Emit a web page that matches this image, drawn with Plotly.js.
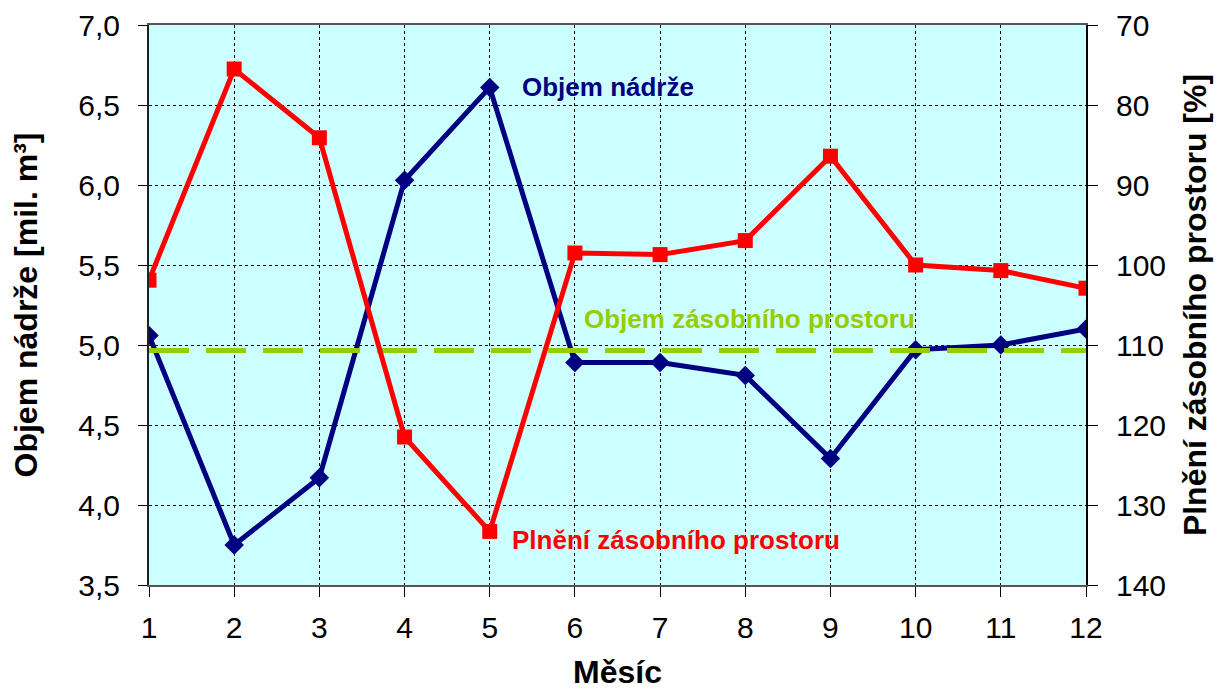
<!DOCTYPE html>
<html>
<head>
<meta charset="utf-8">
<script src="https://cdn.plot.ly/plotly-3.0.1.min.js"></script>
<style>html,body{margin:0;padding:0;background:#fff}#chart{width:1220px;height:690px}</style>
</head>
<body>
<div id="chart"></div>
<script>
const months = [1,2,3,4,5,6,7,8,9,10,11,12];
const volume = [5.06,3.75,4.17,6.03,6.61,4.89,4.89,4.81,4.29,4.97,5.00,5.10];
const filling = [101.9,75.5,84.1,121.5,133.3,98.5,98.7,96.95,86.4,100.0,100.7,102.9];
const reserveVolume = 4.965;
const reserveLine = months.map(() => reserveVolume);
const yTicks = [3.5,4.0,4.5,5.0,5.5,6.0,6.5,7.0];
const y2Ticks = [70,80,90,100,110,120,130,140];

const FONT = 'Liberation Sans, Arial, sans-serif';

const traces = [
  {x: months, y: volume, type: 'scatter', mode: 'lines+markers', yaxis: 'y',
   line: {color: '#000080', width: 5}, marker: {symbol: 'diamond', size: 15, color: '#000080'}},
  {x: months, y: filling, type: 'scatter', mode: 'lines+markers', yaxis: 'y2',
   line: {color: '#FF0000', width: 5}, marker: {symbol: 'square', size: 15, color: '#FF0000'}},
  {x: months, y: reserveLine, type: 'scatter', mode: 'lines', yaxis: 'y',
   line: {color: '#99CC00', width: 5, dash: '40px,17px'}}
];

const layout = {
  width: 1220, height: 690,
  margin: {l: 149, r: 134, t: 25, b: 105},
  paper_bgcolor: '#FFFFFF', plot_bgcolor: '#CCFFFF',
  showlegend: false,
  separators: ', ',
  font: {family: FONT, color: '#000'},
  xaxis: {
    range: [1, 12], tickvals: months, ticks: 'outside', ticklen: 10, tickcolor: '#000',
    tickfont: {size: 30, family: FONT}, showline: true, linecolor: '#555', linewidth: 2, mirror: true,
    showgrid: true, gridcolor: '#000', griddash: 'dot', gridwidth: 1, zeroline: false,
    ticklabelstandoff: 5,
    title: {text: '<b>Měsíc</b>', font: {size: 32, family: FONT}, standoff: 21}
  },
  yaxis: {
    range: [3.5, 7.0], tickvals: yTicks, tickformat: '.1f', ticks: 'outside', ticklen: 9, tickcolor: '#000',
    tickfont: {size: 30, family: FONT}, showline: true, linecolor: '#222', linewidth: 2,
    showgrid: true, gridcolor: '#000', griddash: 'dot', gridwidth: 1, zeroline: false,
    ticklabelstandoff: 12,
    title: {text: '<b>Objem nádrže [mil. m³]</b>', font: {size: 32, family: FONT}, standoff: 31}
  },
  yaxis2: {
    overlaying: 'y', side: 'right', range: [140, 70], tickvals: y2Ticks, ticks: 'outside', ticklen: 10,
    tickcolor: '#000', tickfont: {size: 30, family: FONT}, showline: true, linecolor: '#000', linewidth: 2,
    showgrid: false, zeroline: false, ticklabelstandoff: 12,
    title: {text: '<b>Plnění zásobního prostoru [%]</b>', font: {size: 32, family: FONT}, standoff: 19}
  },
  annotations: [
    {x: 5.35, y: 6.61, xref: 'x', yref: 'y', xanchor: 'left', yanchor: 'middle', showarrow: false,
     text: '<b>Objem nádrže</b>', font: {size: 26, color: '#000080', family: FONT}},
    {x: 5.24, y: 3.78, xref: 'x', yref: 'y', xanchor: 'left', yanchor: 'middle', showarrow: false,
     text: '<b>Plnění zásobního prostoru</b>', font: {size: 26, color: '#FF0000', family: FONT}},
    {x: 6.08, y: 5.16, xref: 'x', yref: 'y', xanchor: 'left', yanchor: 'middle', showarrow: false,
     text: '<b>Objem zásobního prostoru</b>', font: {size: 26, color: '#99CC00', family: FONT}}
  ]
};

Plotly.newPlot('chart', traces, layout, {displayModeBar: false, staticPlot: true});
</script>
</body>
</html>
